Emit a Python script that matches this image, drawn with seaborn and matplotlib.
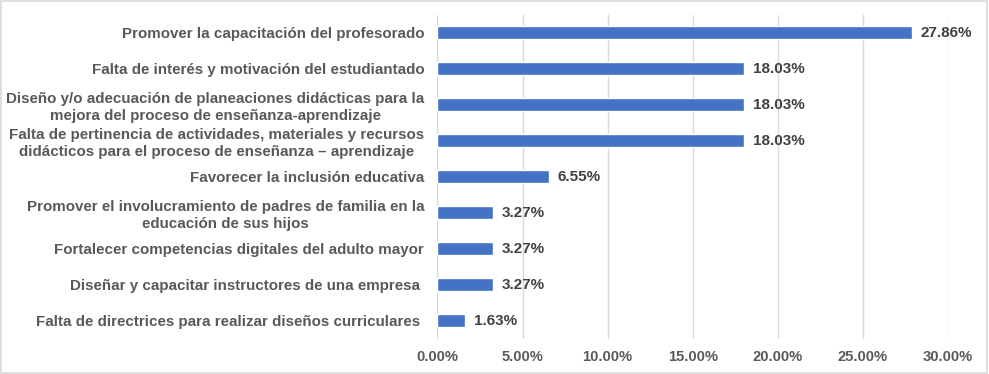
import matplotlib
matplotlib.use('Agg')
import matplotlib.pyplot as plt
import seaborn as sns
import pandas as pd
from matplotlib.ticker import FuncFormatter

# Data
categories = [
    'Promover la capacitación del profesorado',
    'Falta de interés y motivación del estudiantado',
    'Diseño y/o adecuación de planeaciones didácticas para la\nmejora del proceso de enseñanza-aprendizaje',
    'Falta de pertinencia de actividades, materiales y recursos\ndidácticos para el proceso de enseñanza – aprendizaje',
    'Favorecer la inclusión educativa',
    'Promover el involucramiento de padres de familia en la\neducación de sus hijos',
    'Fortalecer competencias digitales del adulto mayor',
    'Diseñar y capacitar instructores de una empresa ',
    'Falta de directrices para realizar diseños curriculares ',
]
values = [27.86, 18.03, 18.03, 18.03, 6.55, 3.27, 3.27, 3.27, 1.63]

df = pd.DataFrame({'categoria': categories, 'porcentaje': values})

sns.set_style('white')
plt.rcParams['font.family'] = ['Liberation Sans', 'DejaVu Sans']

fig = plt.figure(figsize=(9.89, 3.74), dpi=100)
ax = fig.add_axes([0.4423, 0.094, 0.5163, 0.866])

sns.barplot(data=df, x='porcentaje', y='categoria', color='#4472C4',
            width=0.36, saturation=1, ax=ax)

ax.set_xlim(0, 30)
ax.set_xticks([0, 5, 10, 15, 20, 25, 30])
ax.xaxis.set_major_formatter(FuncFormatter(lambda v, p: f'{v:.2f}%'))
ax.grid(axis='x', color='#D9D9D9', linewidth=1)
ax.set_axisbelow(True)
for s in ax.spines.values():
    s.set_visible(False)
ax.tick_params(axis='both', length=0)
ax.tick_params(axis='y', pad=9.5)
ax.tick_params(axis='x', pad=8)
ax.set_xlabel('')
ax.set_ylabel('')

for lab in ax.get_yticklabels():
    lab.set_fontsize(10.9)
    lab.set_fontweight('bold')
    lab.set_color('#595959')
    lab.set_multialignment('center')
for lab in ax.get_xticklabels():
    lab.set_fontsize(10.6)
    lab.set_fontweight('bold')
    lab.set_color('#595959')

for i, v in enumerate(values):
    ax.text(v + 0.5, i, f'{v:.2f}%', va='center', ha='left',
            fontsize=11, fontweight='bold', color='#404040')

# light border around the whole figure
fig.patches.append(plt.Rectangle((0.001, 0.002), 0.997, 0.995, transform=fig.transFigure,
                                 fill=False, edgecolor='#D9D9D9', linewidth=1.2))

fig.savefig('out.png', dpi=100)
